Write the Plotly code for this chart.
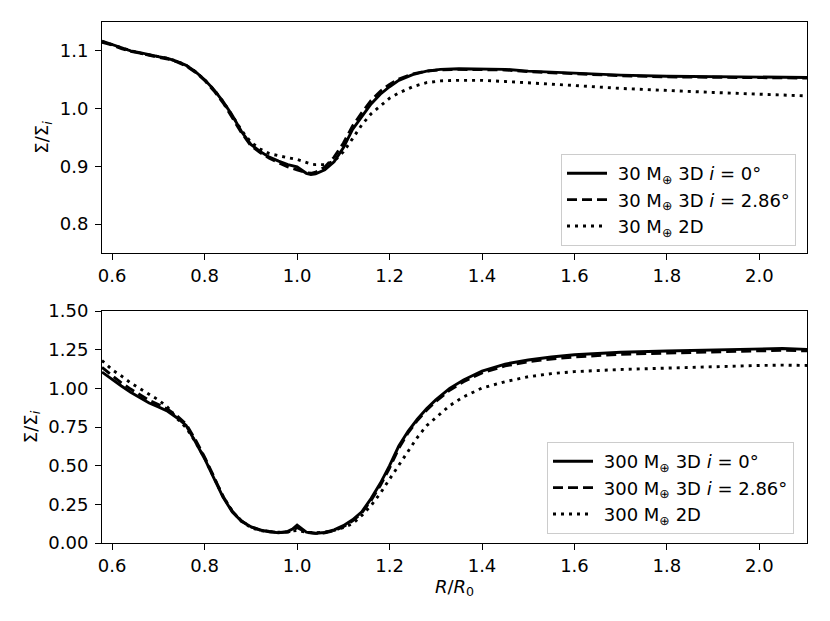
import plotly.graph_objects as go

# ---------------- data ----------------
x_top = [0.578, 0.60, 0.62, 0.64, 0.66, 0.68, 0.70, 0.72, 0.74, 0.76, 0.78, 0.80,
         0.82, 0.84, 0.86, 0.88, 0.90, 0.92, 0.94, 0.96, 0.98, 1.00, 1.02, 1.03,
         1.04, 1.06, 1.08, 1.10, 1.12, 1.14, 1.16, 1.18, 1.20, 1.22, 1.25, 1.28,
         1.31, 1.35, 1.40, 1.45, 1.50, 1.60, 1.70, 1.80, 1.90, 2.00, 2.103]

top_3d_i0 = [1.117, 1.111, 1.105, 1.100, 1.097, 1.093, 1.090, 1.087, 1.082, 1.075, 1.064, 1.050,
             1.033, 1.012, 0.988, 0.960, 0.938, 0.926, 0.916, 0.909, 0.903, 0.899, 0.888, 0.886,
             0.887, 0.894, 0.908, 0.932, 0.964, 0.986, 1.008, 1.025, 1.038, 1.049, 1.059, 1.065,
             1.068, 1.069, 1.069, 1.068, 1.065, 1.061, 1.058, 1.056, 1.055, 1.054, 1.054]

top_3d_i286 = [1.115, 1.110, 1.104, 1.099, 1.096, 1.092, 1.089, 1.086, 1.081, 1.074, 1.063, 1.049,
               1.031, 1.010, 0.985, 0.958, 0.936, 0.924, 0.914, 0.906, 0.899, 0.894, 0.889, 0.888,
               0.890, 0.899, 0.916, 0.940, 0.970, 0.993, 1.014, 1.030, 1.042, 1.051, 1.060, 1.065,
               1.067, 1.068, 1.068, 1.067, 1.064, 1.060, 1.057, 1.055, 1.054, 1.053, 1.053]

top_2d = [1.116, 1.111, 1.105, 1.100, 1.096, 1.093, 1.090, 1.087, 1.082, 1.075, 1.064, 1.050,
          1.033, 1.012, 0.988, 0.962, 0.942, 0.930, 0.922, 0.918, 0.915, 0.912, 0.906, 0.904,
          0.903, 0.903, 0.909, 0.925, 0.948, 0.972, 0.991, 1.005, 1.018, 1.027, 1.038, 1.045,
          1.048, 1.049, 1.049, 1.047, 1.045, 1.040, 1.035, 1.031, 1.028, 1.025, 1.022]

x_bot = [0.578, 0.60, 0.62, 0.64, 0.66, 0.68, 0.70, 0.72, 0.74, 0.76, 0.78, 0.80,
         0.82, 0.84, 0.86, 0.88, 0.90, 0.92, 0.94, 0.96, 0.98, 0.99, 1.00, 1.01,
         1.02, 1.04, 1.06, 1.08, 1.10, 1.12, 1.14, 1.16, 1.18, 1.20, 1.22, 1.24,
         1.26, 1.28, 1.30, 1.33, 1.36, 1.40, 1.45, 1.50, 1.55, 1.60, 1.70, 1.80,
         1.90, 2.00, 2.05, 2.103]

bot_3d_i0 = [1.105, 1.055, 1.015, 0.975, 0.940, 0.905, 0.880, 0.852, 0.810, 0.760, 0.655, 0.545,
             0.420, 0.295, 0.200, 0.140, 0.105, 0.084, 0.072, 0.066, 0.075, 0.090, 0.115, 0.090,
             0.070, 0.063, 0.068, 0.085, 0.112, 0.150, 0.202, 0.287, 0.386, 0.500, 0.627, 0.722,
             0.800, 0.868, 0.925, 1.000, 1.054, 1.112, 1.157, 1.183, 1.203, 1.217, 1.233, 1.241,
             1.249, 1.256, 1.258, 1.252]

bot_3d_i286 = [1.135, 1.080, 1.035, 0.995, 0.957, 0.922, 0.895, 0.865, 0.822, 0.768, 0.668, 0.555,
               0.428, 0.300, 0.205, 0.142, 0.105, 0.085, 0.075, 0.068, 0.070, 0.080, 0.100, 0.082,
               0.068, 0.062, 0.066, 0.080, 0.105, 0.143, 0.195, 0.275, 0.372, 0.485, 0.612, 0.712,
               0.792, 0.858, 0.915, 0.988, 1.043, 1.100, 1.145, 1.172, 1.190, 1.203, 1.220, 1.228,
               1.235, 1.243, 1.246, 1.242]

bot_2d = [1.180, 1.120, 1.080, 1.035, 0.998, 0.960, 0.925, 0.878, 0.806, 0.745, 0.655, 0.548,
          0.425, 0.300, 0.205, 0.140, 0.100, 0.080, 0.073, 0.070, 0.072, 0.076, 0.082, 0.076,
          0.070, 0.066, 0.070, 0.082, 0.100, 0.125, 0.178, 0.242, 0.321, 0.413, 0.503, 0.593,
          0.682, 0.758, 0.811, 0.888, 0.945, 1.002, 1.043, 1.075, 1.095, 1.108, 1.122, 1.132,
          1.140, 1.148, 1.150, 1.148]

x_ticks = [0.6, 0.8, 1.0, 1.2, 1.4, 1.6, 1.8, 2.0]
x_ticktext = ["0.6", "0.8", "1.0", "1.2", "1.4", "1.6", "1.8", "2.0"]
y_top_ticks = [0.8, 0.9, 1.0, 1.1]
y_top_ticktext = ["0.8", "0.9", "1.0", "1.1"]
y_bot_ticks = [0.0, 0.25, 0.5, 0.75, 1.0, 1.25, 1.5]
y_bot_ticktext = ["0.00", "0.25", "0.50", "0.75", "1.00", "1.25", "1.50"]

top_names = ["30 M<sub>⊕</sub> 3D <i>i</i> = 0°",
             "30 M<sub>⊕</sub> 3D <i>i</i> = 2.86°",
             "30 M<sub>⊕</sub> 2D"]
bot_names = ["300 M<sub>⊕</sub> 3D <i>i</i> = 0°",
             "300 M<sub>⊕</sub> 3D <i>i</i> = 2.86°",
             "300 M<sub>⊕</sub> 2D"]

# ---------------- figure ----------------
FONT = "DejaVu Sans"
FS = 18
LW = 2.9
NBSP = "\u00a0"
styles = [dict(color="black", width=LW, dash="solid"),
          dict(color="black", width=LW, dash="10px,5px"),
          dict(color="black", width=LW, dash="3px,5px")]

fig = go.Figure()
for ys, name, st in zip([top_3d_i0, top_3d_i286, top_2d], top_names, styles):
    fig.add_trace(go.Scatter(x=x_top, y=ys, mode="lines", name=NBSP + name, line=st,
                             xaxis="x", yaxis="y", legend="legend"))
for ys, name, st in zip([bot_3d_i0, bot_3d_i286, bot_2d], bot_names, styles):
    fig.add_trace(go.Scatter(x=x_bot, y=ys, mode="lines", name=NBSP + name, line=st,
                             xaxis="x2", yaxis="y2", legend="legend2"))

axis_common = dict(showline=True, mirror=True, linecolor="black", linewidth=1,
                   ticks="outside", ticklen=6, tickwidth=1, tickcolor="black",
                   showgrid=False, zeroline=False, automargin=False,
                   tickfont=dict(family=FONT, size=FS, color="black"))

# page body has an 8px margin: figure occupies screen x 8..822, y 8..613
OFF = 8
W, H = 814, 605
PL, PR, PT, PB = 102, 807, 22, 543          # plot area in screen pixels
L, R, T, B = PL - OFF, (OFF + W) - PR, PT - OFF, (OFF + H) - PB
pw = PR - PL
ph = PB - PT
top_dom = [(PB - 253) / ph, 1.0]
bot_dom = [0.0, (PB - 311) / ph]

legend_common = dict(bgcolor="rgba(255,255,255,0.8)", bordercolor="#cccccc", borderwidth=1,
                     font=dict(family=FONT, size=FS, color="black"),
                     xanchor="left", yanchor="top", itemwidth=40, tracegroupgap=0)

fig.update_layout(
    template="none",
    width=W, height=H,
    margin=dict(l=L, r=R, t=T, b=B, autoexpand=False),
    paper_bgcolor="white", plot_bgcolor="white",
    font=dict(family=FONT, size=FS, color="black"),
    xaxis=dict(domain=[0, 1], anchor="y", range=[0.578, 2.103],
               tickvals=x_ticks, ticktext=x_ticktext, **axis_common),
    yaxis=dict(domain=top_dom, anchor="x", range=[0.75, 1.15],
               tickvals=y_top_ticks, ticktext=y_top_ticktext, ticklabelstandoff=3,
               title=dict(text="Σ/Σ<sub><i>i</i></sub>", font=dict(family=FONT, size=FS),
                          standoff=6),
               **axis_common),
    xaxis2=dict(domain=[0, 1], anchor="y2", range=[0.578, 2.103],
                tickvals=x_ticks, ticktext=x_ticktext,
                title=dict(text="<i>R</i>/<i>R</i><sub>0</sub>", font=dict(family=FONT, size=FS),
                           standoff=0),
                **axis_common),
    yaxis2=dict(domain=bot_dom, anchor="x2", range=[0, 1.5],
                tickvals=y_bot_ticks, ticktext=y_bot_ticktext, ticklabelstandoff=3,
                title=dict(text="Σ/Σ<sub><i>i</i></sub>", font=dict(family=FONT, size=FS),
                           standoff=6),
                **axis_common),
    legend=dict(x=(561 - PL) / pw, y=(PB - 154) / ph, **legend_common),
    legend2=dict(x=(547 - PL) / pw, y=(PB - 442) / ph, **legend_common),
    showlegend=True,
)

fig.write_html("out.html")
